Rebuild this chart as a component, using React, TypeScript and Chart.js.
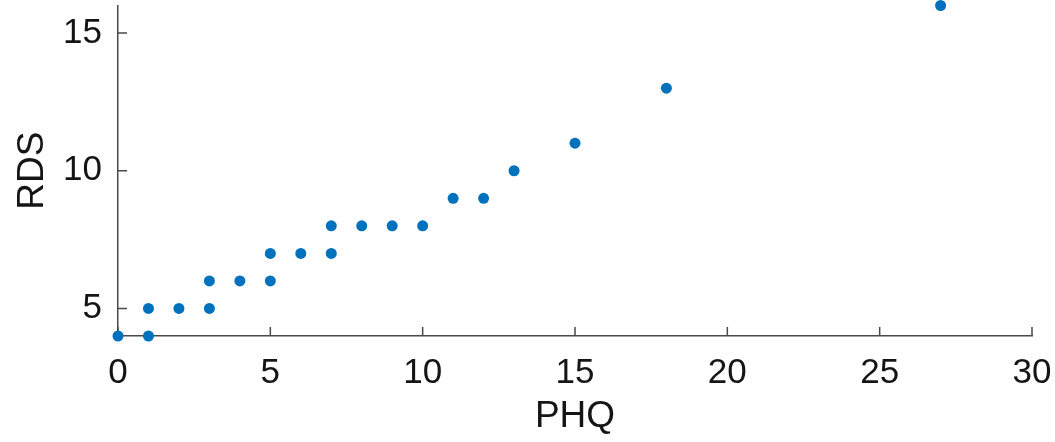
import React, { useEffect, useRef } from "react";
import { Chart, registerables } from "chart.js";

Chart.register(...registerables);

const phq: number[] = [0, 1, 1, 2, 3, 3, 4, 5, 5, 6, 7, 7, 8, 9, 10, 11, 12, 13, 15, 18, 27];
const rds: number[] = [4, 4, 5, 5, 5, 6, 6, 6, 7, 7, 7, 8, 8, 8, 8, 9, 9, 10, 11, 13, 16];
const xTicks: number[] = [0, 5, 10, 15, 20, 25, 30];
const yTicks: number[] = [5, 10, 15];

const AXIS_COLOR = "#4a4a4a";
const TEXT_COLOR = "#151515";
const POINT_COLOR = "#0072BD";
const FONT = "'Liberation Sans', Arial, Helvetica, sans-serif";

const inwardTicks = {
  id: "inwardTicks",
  beforeDatasetsDraw(chart: any) {
    const { ctx, chartArea, scales } = chart;
    const len = 9;
    ctx.save();
    ctx.strokeStyle = AXIS_COLOR;
    ctx.lineWidth = 1.5;
    ctx.beginPath();
    xTicks.forEach((v) => {
      const px = scales.x.getPixelForValue(v);
      ctx.moveTo(px, chartArea.bottom);
      ctx.lineTo(px, chartArea.bottom - len);
    });
    yTicks.forEach((v) => {
      const py = scales.y.getPixelForValue(v);
      ctx.moveTo(chartArea.left, py);
      ctx.lineTo(chartArea.left + len, py);
    });
    ctx.stroke();
    ctx.restore();
  },
};

export default function App() {
  const canvasRef = useRef<HTMLCanvasElement | null>(null);

  useEffect(() => {
    if (!canvasRef.current) return;
    const points = phq.map((x, i) => ({ x, y: rds[i] }));
    const chart = new Chart(canvasRef.current, {
      type: "scatter",
      data: {
        datasets: [
          {
            data: points,
            backgroundColor: POINT_COLOR,
            borderColor: POINT_COLOR,
            pointRadius: 5.5,
            pointBorderWidth: 0,
            clip: false as any,
          },
        ],
      },
      options: {
        responsive: false,
        animation: false,
        layout: { padding: { top: 5, right: 23, left: 0, bottom: 0 } },
        plugins: {
          legend: { display: false },
          tooltip: { enabled: false },
        },
        scales: {
          x: {
            type: "linear",
            min: 0,
            max: 30,
            afterBuildTicks: (scale: any) => {
              scale.ticks = xTicks.map((v) => ({ value: v }));
            },
            afterFit: (scale: any) => {
              scale.height = 106;
              scale.paddingLeft = 0;
              scale.paddingRight = 0;
              scale.paddingTop = 0;
              scale.paddingBottom = 0;
            },
            grid: { display: false, drawTicks: false, tickLength: 0 },
            border: { display: true, color: AXIS_COLOR, width: 1.5 },
            ticks: {
              color: TEXT_COLOR,
              padding: 16,
              maxRotation: 0,
              autoSkip: false,
              font: { family: FONT, size: 35 },
            },
            title: {
              display: true,
              text: "PHQ",
              color: TEXT_COLOR,
              padding: { top: 0, bottom: 3 },
              font: { family: FONT, size: 37 },
            },
          },
          y: {
            type: "linear",
            min: 4,
            max: 16,
            afterBuildTicks: (scale: any) => {
              scale.ticks = yTicks.map((v) => ({ value: v }));
            },
            afterFit: (scale: any) => {
              scale.width = 118;
              scale.paddingLeft = 0;
              scale.paddingRight = 0;
              scale.paddingTop = 0;
              scale.paddingBottom = 0;
            },
            grid: { display: false, drawTicks: false, tickLength: 0 },
            border: { display: true, color: AXIS_COLOR, width: 1.5 },
            ticks: {
              color: TEXT_COLOR,
              padding: 16,
              autoSkip: false,
              font: { family: FONT, size: 35 },
            },
            title: {
              display: true,
              text: "RDS",
              color: TEXT_COLOR,
              padding: { top: 11, bottom: 0 },
              font: { family: FONT, size: 37 },
            },
          },
        },
      },
      plugins: [inwardTicks],
    });
    return () => chart.destroy();
  }, []);

  return (
    <div style={{ position: "absolute", left: 0, top: 0, width: 1055, height: 442, background: "#fff" }}>
      <canvas ref={canvasRef} width={1055} height={442} />
    </div>
  );
}
